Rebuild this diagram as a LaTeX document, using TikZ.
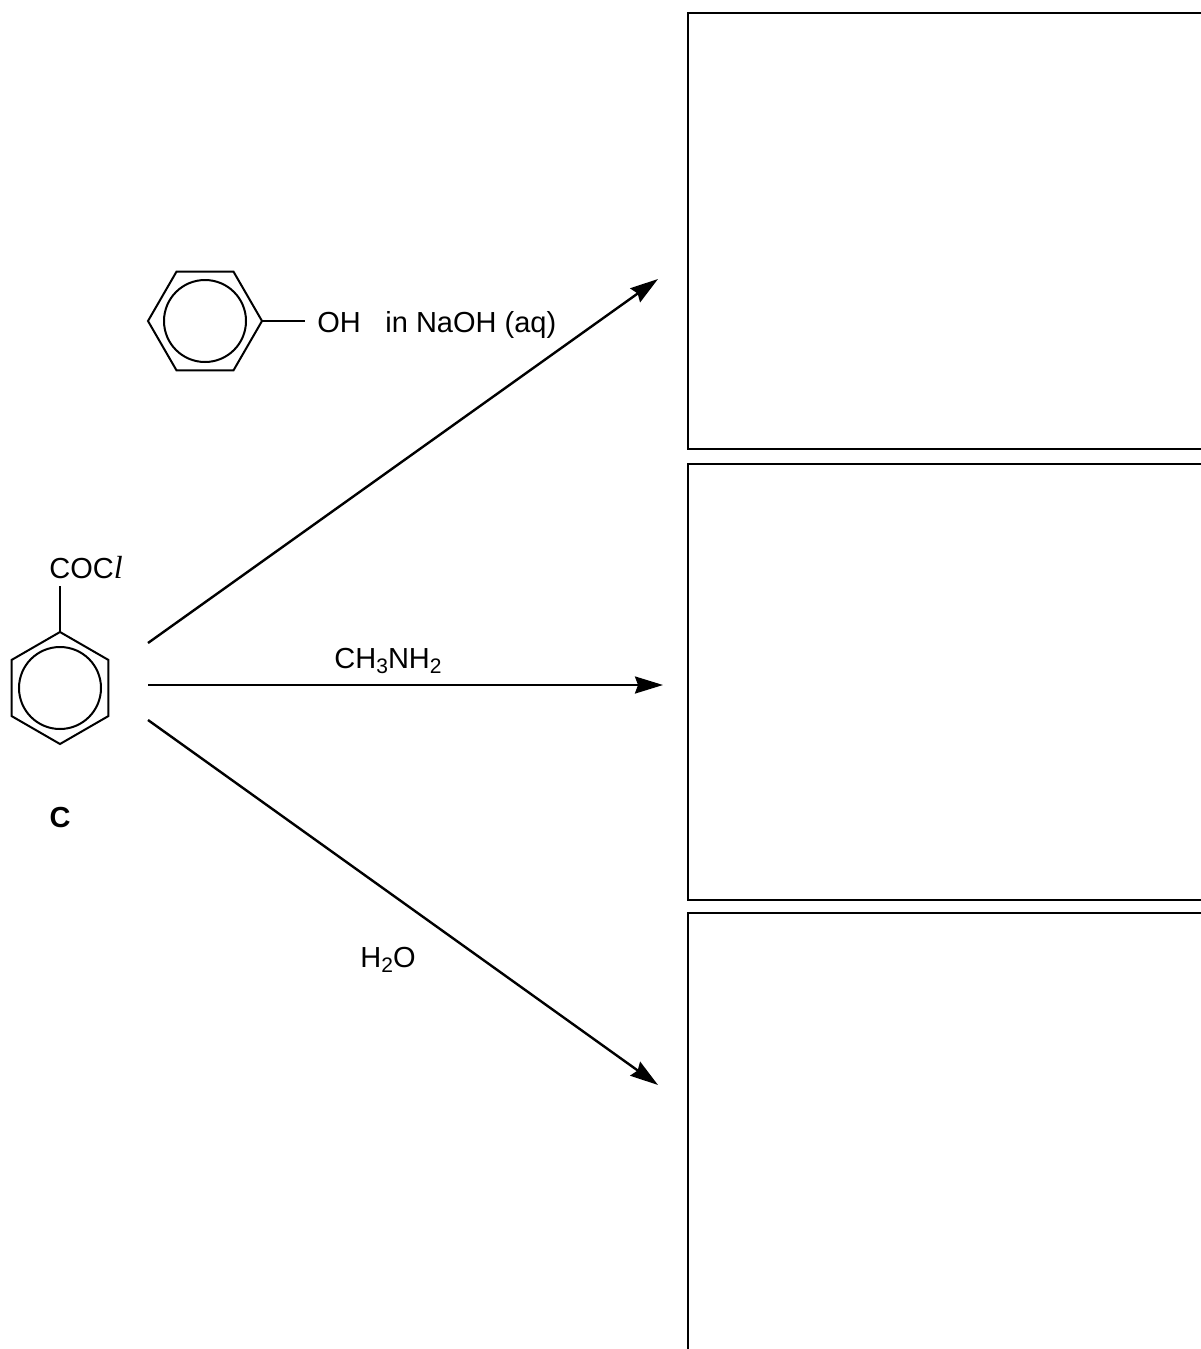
\documentclass[tikz,border=0pt]{standalone}
\usepackage{fontspec}
\setmainfont{Liberation Sans}
\newfontfamily\serifit{Liberation Serif}
\usetikzlibrary{arrows.meta}
\newcommand{\chsub}[1]{\raisebox{-0.35ex}{\fontsize{10.5pt}{10.5pt}\selectfont #1}}
\begin{document}
\begin{tikzpicture}[x=0.5pt,y=-0.5pt,
  box/.style={line width=1.4pt},
  ring/.style={line width=1pt},
  rxn/.style={line width=1.2pt,-{Stealth[length=14pt,width=8.5pt,inset=1.5pt]}},
  lbl/.style={font=\fontsize{14.5pt}{17pt}\selectfont,inner sep=0pt,anchor=base}]
\useasboundingbox (0,0) rectangle (1200,1349);
% answer boxes (open to the right)
\draw[box] (1202,13) -- (688,13) -- (688,449) -- (1202,449);
\draw[box] (1202,464) -- (688,464) -- (688,900) -- (1202,900);
\draw[box] (1202,913) -- (688,913) -- (688,1352);
% compound C
\coordinate (cc) at (60,688);
\draw[ring] (cc) ++(30:56) -- ++(150:56) -- ++(210:56) -- ++(270:56) -- ++(330:56) -- ++(30:56) -- cycle;
\draw[ring] (cc) circle[radius=20.5pt];
\coordinate (ctop) at (60,632);
\coordinate (cbond) at (60,586);
\draw[ring] (ctop) -- (cbond);
\node[lbl,anchor=base west] (cocl) at (49,578) {COC{\serifit\itshape\fontsize{16pt}{17pt}\selectfont l}};
\node[lbl,anchor=base,font=\fontsize{14.5pt}{17pt}\selectfont\bfseries] (clabel) at (60,827) {C};
% phenol
\coordinate (pc) at (205,321);
\draw[ring] (pc) ++(0:57) -- ++(120:57) -- ++(180:57) -- ++(240:57) -- ++(300:57) -- ++(0:57) -- cycle;
\draw[ring] (pc) circle[radius=20.5pt];
\coordinate (pr) at (262,321);
\coordinate (pb) at (305,321);
\draw[ring] (pr) -- (pb);
\node[lbl,anchor=base west] (oh) at (317,332) {OH};
\node[lbl,anchor=base west] (naoh) at (385,332) {in NaOH (aq)};
% reaction arrows
\coordinate (s1) at (148,643);
\coordinate (e1) at (658,279);
\coordinate (s2) at (148,685);
\coordinate (e2) at (663,685);
\coordinate (s3) at (148,720);
\coordinate (e3) at (658,1085);
\draw[rxn] (s1) -- (e1);
\draw[rxn] (s2) -- (e2);
\draw[rxn] (s3) -- (e3);
\node[lbl] (amine) at (388,668) {CH\chsub{3}NH\chsub{2}};
\node[lbl] (water) at (388,967) {H\chsub{2}O};
\end{tikzpicture}
\end{document}
